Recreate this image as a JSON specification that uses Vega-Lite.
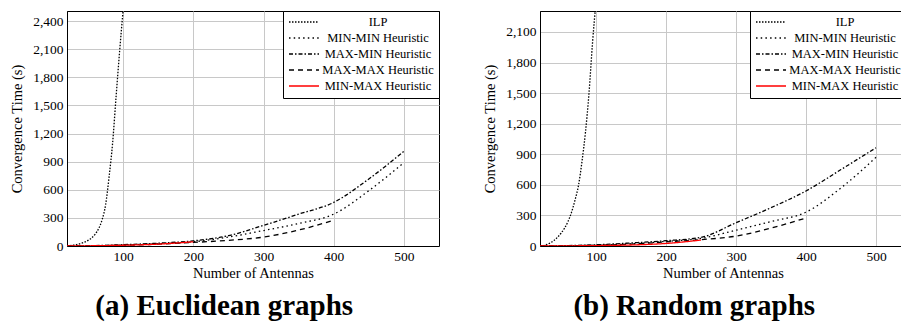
{
  "$schema": "https://vega.github.io/schema/vega-lite/v6.json",
  "padding": {"left": 8, "top": 10, "right": 0, "bottom": 0},
  "spacing": 41,
  "config": {
    "font": "Liberation Serif",
    "view": {"stroke": "black", "strokeWidth": 1},
    "axis": {
      "labelFont": "Liberation Serif", "labelFontSize": 13.5, "labelColor": "black",
      "titleFont": "Liberation Serif", "titleFontSize": 14.5, "titleFontWeight": "normal", "titleColor": "black",
      "domainColor": "black", "gridColor": "#c8c8c8", "gridWidth": 1, "ticks": false
    },
    "axisX": {"labelPadding": 3, "titlePadding": 4},
    "axisY": {"labelPadding": 4, "titlePadding": 5, "minExtent": 38, "maxExtent": 38},
    "legend": {
      "orient": "top-right", "offset": 0, "padding": 5, "strokeColor": "black", "fillColor": "white",
      "cornerRadius": 0, "strokeWidth": 1, "symbolType": "stroke", "symbolSize": 900, "symbolStrokeWidth": 1.3,
      "labelFont": "Liberation Serif", "labelFontSize": 12.5, "labelColor": "black", "labelAlign": "center",
      "labelOffset": 58, "rowPadding": 3, "labelLimit": 300, "clipHeight": 12
    },
    "title": {"font": "Liberation Serif", "fontSize": 29, "fontWeight": "bold", "color": "black"}
  },
  "data": {"values": [
    {"panel": "a", "series": "ILP", "n": 20, "t": 0},
    {"panel": "a", "series": "ILP", "n": 30, "t": 10},
    {"panel": "a", "series": "ILP", "n": 40, "t": 28},
    {"panel": "a", "series": "ILP", "n": 50, "t": 60},
    {"panel": "a", "series": "ILP", "n": 60, "t": 125},
    {"panel": "a", "series": "ILP", "n": 65, "t": 185},
    {"panel": "a", "series": "ILP", "n": 70, "t": 280},
    {"panel": "a", "series": "ILP", "n": 75, "t": 440},
    {"panel": "a", "series": "ILP", "n": 80, "t": 740},
    {"panel": "a", "series": "ILP", "n": 85, "t": 1100},
    {"panel": "a", "series": "ILP", "n": 90, "t": 1600},
    {"panel": "a", "series": "ILP", "n": 95, "t": 2080},
    {"panel": "a", "series": "ILP", "n": 100, "t": 2520},
    {"panel": "a", "series": "MIN-MIN Heuristic", "n": 20, "t": 0},
    {"panel": "a", "series": "MIN-MIN Heuristic", "n": 50, "t": 2},
    {"panel": "a", "series": "MIN-MIN Heuristic", "n": 100, "t": 10},
    {"panel": "a", "series": "MIN-MIN Heuristic", "n": 150, "t": 25},
    {"panel": "a", "series": "MIN-MIN Heuristic", "n": 200, "t": 45},
    {"panel": "a", "series": "MIN-MIN Heuristic", "n": 250, "t": 95},
    {"panel": "a", "series": "MIN-MIN Heuristic", "n": 300, "t": 165},
    {"panel": "a", "series": "MIN-MIN Heuristic", "n": 350, "t": 240},
    {"panel": "a", "series": "MIN-MIN Heuristic", "n": 400, "t": 340},
    {"panel": "a", "series": "MIN-MIN Heuristic", "n": 450, "t": 590},
    {"panel": "a", "series": "MIN-MIN Heuristic", "n": 500, "t": 890},
    {"panel": "a", "series": "MAX-MIN Heuristic", "n": 20, "t": 0},
    {"panel": "a", "series": "MAX-MIN Heuristic", "n": 50, "t": 3},
    {"panel": "a", "series": "MAX-MIN Heuristic", "n": 100, "t": 14},
    {"panel": "a", "series": "MAX-MIN Heuristic", "n": 150, "t": 30},
    {"panel": "a", "series": "MAX-MIN Heuristic", "n": 200, "t": 55},
    {"panel": "a", "series": "MAX-MIN Heuristic", "n": 250, "t": 110},
    {"panel": "a", "series": "MAX-MIN Heuristic", "n": 300, "t": 220},
    {"panel": "a", "series": "MAX-MIN Heuristic", "n": 350, "t": 340},
    {"panel": "a", "series": "MAX-MIN Heuristic", "n": 400, "t": 465},
    {"panel": "a", "series": "MAX-MIN Heuristic", "n": 450, "t": 715},
    {"panel": "a", "series": "MAX-MIN Heuristic", "n": 500, "t": 1010},
    {"panel": "a", "series": "MAX-MAX Heuristic", "n": 20, "t": 0},
    {"panel": "a", "series": "MAX-MAX Heuristic", "n": 50, "t": 2},
    {"panel": "a", "series": "MAX-MAX Heuristic", "n": 100, "t": 8},
    {"panel": "a", "series": "MAX-MAX Heuristic", "n": 150, "t": 20},
    {"panel": "a", "series": "MAX-MAX Heuristic", "n": 200, "t": 38},
    {"panel": "a", "series": "MAX-MAX Heuristic", "n": 250, "t": 60},
    {"panel": "a", "series": "MAX-MAX Heuristic", "n": 300, "t": 95},
    {"panel": "a", "series": "MAX-MAX Heuristic", "n": 350, "t": 170},
    {"panel": "a", "series": "MAX-MAX Heuristic", "n": 400, "t": 275},
    {"panel": "a", "series": "MIN-MAX Heuristic", "n": 20, "t": 0},
    {"panel": "a", "series": "MIN-MAX Heuristic", "n": 50, "t": 2},
    {"panel": "a", "series": "MIN-MAX Heuristic", "n": 100, "t": 8},
    {"panel": "a", "series": "MIN-MAX Heuristic", "n": 150, "t": 20},
    {"panel": "a", "series": "MIN-MAX Heuristic", "n": 200, "t": 45},
    {"panel": "b", "series": "ILP", "n": 20, "t": 0},
    {"panel": "b", "series": "ILP", "n": 30, "t": 15},
    {"panel": "b", "series": "ILP", "n": 40, "t": 55},
    {"panel": "b", "series": "ILP", "n": 50, "t": 125},
    {"panel": "b", "series": "ILP", "n": 60, "t": 240},
    {"panel": "b", "series": "ILP", "n": 65, "t": 330},
    {"panel": "b", "series": "ILP", "n": 70, "t": 450},
    {"panel": "b", "series": "ILP", "n": 75, "t": 595},
    {"panel": "b", "series": "ILP", "n": 80, "t": 830},
    {"panel": "b", "series": "ILP", "n": 85, "t": 1120},
    {"panel": "b", "series": "ILP", "n": 90, "t": 1500},
    {"panel": "b", "series": "ILP", "n": 95, "t": 1990},
    {"panel": "b", "series": "ILP", "n": 100, "t": 2400},
    {"panel": "b", "series": "MIN-MIN Heuristic", "n": 20, "t": 0},
    {"panel": "b", "series": "MIN-MIN Heuristic", "n": 50, "t": 2},
    {"panel": "b", "series": "MIN-MIN Heuristic", "n": 100, "t": 8},
    {"panel": "b", "series": "MIN-MIN Heuristic", "n": 150, "t": 22},
    {"panel": "b", "series": "MIN-MIN Heuristic", "n": 200, "t": 45},
    {"panel": "b", "series": "MIN-MIN Heuristic", "n": 250, "t": 75},
    {"panel": "b", "series": "MIN-MIN Heuristic", "n": 300, "t": 155},
    {"panel": "b", "series": "MIN-MIN Heuristic", "n": 350, "t": 240},
    {"panel": "b", "series": "MIN-MIN Heuristic", "n": 400, "t": 332},
    {"panel": "b", "series": "MIN-MIN Heuristic", "n": 450, "t": 570},
    {"panel": "b", "series": "MIN-MIN Heuristic", "n": 500, "t": 870},
    {"panel": "b", "series": "MAX-MIN Heuristic", "n": 20, "t": 0},
    {"panel": "b", "series": "MAX-MIN Heuristic", "n": 50, "t": 3},
    {"panel": "b", "series": "MAX-MIN Heuristic", "n": 100, "t": 12},
    {"panel": "b", "series": "MAX-MIN Heuristic", "n": 150, "t": 30},
    {"panel": "b", "series": "MAX-MIN Heuristic", "n": 200, "t": 52},
    {"panel": "b", "series": "MAX-MIN Heuristic", "n": 250, "t": 85},
    {"panel": "b", "series": "MAX-MIN Heuristic", "n": 300, "t": 228},
    {"panel": "b", "series": "MAX-MIN Heuristic", "n": 350, "t": 376},
    {"panel": "b", "series": "MAX-MIN Heuristic", "n": 400, "t": 540},
    {"panel": "b", "series": "MAX-MIN Heuristic", "n": 450, "t": 750},
    {"panel": "b", "series": "MAX-MIN Heuristic", "n": 500, "t": 964},
    {"panel": "b", "series": "MAX-MAX Heuristic", "n": 20, "t": 0},
    {"panel": "b", "series": "MAX-MAX Heuristic", "n": 50, "t": 2},
    {"panel": "b", "series": "MAX-MAX Heuristic", "n": 100, "t": 7},
    {"panel": "b", "series": "MAX-MAX Heuristic", "n": 150, "t": 18},
    {"panel": "b", "series": "MAX-MAX Heuristic", "n": 200, "t": 40},
    {"panel": "b", "series": "MAX-MAX Heuristic", "n": 250, "t": 62},
    {"panel": "b", "series": "MAX-MAX Heuristic", "n": 300, "t": 97},
    {"panel": "b", "series": "MAX-MAX Heuristic", "n": 350, "t": 175},
    {"panel": "b", "series": "MAX-MAX Heuristic", "n": 400, "t": 275},
    {"panel": "b", "series": "MIN-MAX Heuristic", "n": 20, "t": 0},
    {"panel": "b", "series": "MIN-MAX Heuristic", "n": 50, "t": 1},
    {"panel": "b", "series": "MIN-MAX Heuristic", "n": 100, "t": 4},
    {"panel": "b", "series": "MIN-MAX Heuristic", "n": 150, "t": 10},
    {"panel": "b", "series": "MIN-MAX Heuristic", "n": 200, "t": 25},
    {"panel": "b", "series": "MIN-MAX Heuristic", "n": 250, "t": 58}
  ]},
  "hconcat": [
    {
      "width": 372, "height": 235,
      "title": {"text": "(a) Euclidean graphs", "orient": "bottom", "anchor": "middle", "frame": "bounds", "offset": 12},
      "transform": [{"filter": "datum.panel === 'a'"}],
      "mark": {"type": "line", "clip": true, "interpolate": "monotone", "strokeWidth": 1.3},
      "encoding": {
        "x": {"field": "n", "type": "quantitative", "title": "Number of Antennas",
              "scale": {"domain": [20, 550], "nice": false, "zero": false},
              "axis": {"values": [100, 200, 300, 400, 500]}},
        "y": {"field": "t", "type": "quantitative", "title": "Convergence Time (s)",
              "scale": {"domain": [0, 2507], "nice": false},
              "axis": {"values": [0, 300, 600, 900, 1200, 1500, 1800, 2100, 2400], "format": ",d"}},
        "color": {"field": "series", "type": "nominal",
                  "scale": {"domain": ["ILP", "MIN-MIN Heuristic", "MAX-MIN Heuristic", "MAX-MAX Heuristic", "MIN-MAX Heuristic"],
                            "range": ["black", "black", "black", "black", "red"]},
                  "legend": {"title": null}},
        "strokeDash": {"field": "series", "type": "nominal",
                  "scale": {"domain": ["ILP", "MIN-MIN Heuristic", "MAX-MIN Heuristic", "MAX-MAX Heuristic", "MIN-MAX Heuristic"],
                            "range": [[1.5, 1.5], [1.5, 3.2], [4, 2, 1.5, 2], [5, 4], [1, 0]]},
                  "legend": {"title": null}}
      }
    },
    {
      "width": 366, "height": 235,
      "title": {"text": "(b) Random graphs", "orient": "bottom", "anchor": "middle", "frame": "bounds", "offset": 12},
      "transform": [{"filter": "datum.panel === 'b'"}],
      "mark": {"type": "line", "clip": true, "interpolate": "monotone", "strokeWidth": 1.3},
      "encoding": {
        "x": {"field": "n", "type": "quantitative", "title": "Number of Antennas",
              "scale": {"domain": [20, 542.857], "nice": false, "zero": false},
              "axis": {"values": [100, 200, 300, 400, 500]}},
        "y": {"field": "t", "type": "quantitative", "title": "Convergence Time (s)",
              "scale": {"domain": [0, 2306], "nice": false},
              "axis": {"values": [0, 300, 600, 900, 1200, 1500, 1800, 2100], "format": ",d"}},
        "color": {"field": "series", "type": "nominal",
                  "scale": {"domain": ["ILP", "MIN-MIN Heuristic", "MAX-MIN Heuristic", "MAX-MAX Heuristic", "MIN-MAX Heuristic"],
                            "range": ["black", "black", "black", "black", "red"]},
                  "legend": {"title": null}},
        "strokeDash": {"field": "series", "type": "nominal",
                  "scale": {"domain": ["ILP", "MIN-MIN Heuristic", "MAX-MIN Heuristic", "MAX-MAX Heuristic", "MIN-MAX Heuristic"],
                            "range": [[1.5, 1.5], [1.5, 3.2], [4, 2, 1.5, 2], [5, 4], [1, 0]]},
                  "legend": {"title": null}}
      }
    }
  ],
  "resolve": {"scale": {"x": "independent", "y": "independent", "color": "independent", "strokeDash": "independent"},
              "legend": {"color": "independent", "strokeDash": "independent"}}
}
